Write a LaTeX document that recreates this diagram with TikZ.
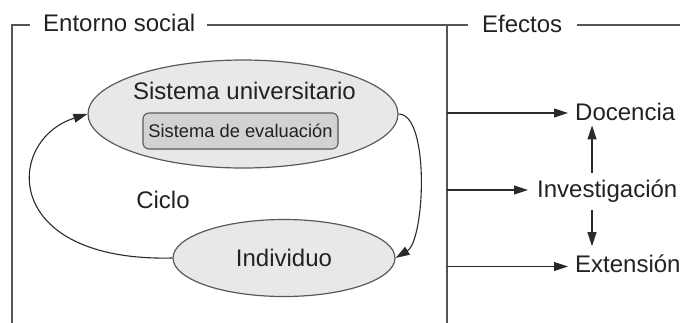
\documentclass[tikz,border=0pt]{standalone}
\usepackage{fontspec}
\setmainfont{Liberation Sans}
\usetikzlibrary{arrows.meta,shapes.geometric,calc}
\definecolor{txt}{HTML}{222222}
\definecolor{framec}{HTML}{555555}
\definecolor{linec}{HTML}{2A2A2A}
\definecolor{ellfill}{HTML}{E8E8E8}
\definecolor{boxfill}{HTML}{D2D2D2}
\definecolor{edgec}{HTML}{5A5A5A}
\tikzset{
  lbl/.style={font=\fontsize{24}{28}\selectfont, text=txt, inner sep=0pt},
  frameline/.style={draw=framec, line width=1.4pt},
  arr/.style={draw=linec, line width=1.1pt, -{Triangle[length=14pt,width=9pt]}},
  ell/.style={ellipse, draw=edgec, line width=1.2pt, fill=ellfill, inner sep=0pt},
  evalbox/.style={rectangle, rounded corners=6pt, draw=edgec, line width=1.1pt, fill=boxfill,
    font=\fontsize{18.3}{22}\selectfont, text=txt, minimum width=195pt, minimum height=36pt, inner sep=0pt}
}
\begin{document}
\begin{tikzpicture}[x=1pt,y=-1pt]
\useasboundingbox (0,0) rectangle (680,322);
% frame
\coordinate (L0) at (12,323);
\coordinate (L1) at (12,25);
\coordinate (L2) at (30,25);
\coordinate (L3) at (207,25);
\coordinate (M1) at (447,25);
\coordinate (M0) at (447,323);
\coordinate (M2) at (468,25);
\coordinate (R1) at (577,25);
\coordinate (R2) at (681,25);
\draw[frameline] (L2) -- (L1) -- (L0);
\draw[frameline] (L3) -- (M1) -- (M0);
\draw[frameline] (M1) -- (M2);
\draw[frameline] (R1) -- (R2);
\node[lbl, anchor=base west] (ent) at (43,31.5) {Entorno social};
\node[lbl, anchor=base west] (efe) at (482,32) {Efectos};
% left part
\node[ell, minimum width=310pt, minimum height=108pt] (su) at (243,114) {};
\node[lbl, anchor=base] (sut) at (244.5,99) {Sistema universitario};
\node[evalbox] (se) at (240.5,131) {Sistema de evaluación};
\node[ell, minimum width=222pt, minimum height=77pt, font=\fontsize{24}{28}\selectfont, text=txt] (ind) at (284,258) {Individuo};
\node[lbl, anchor=base] (cic) at (163,208) {Ciclo};
\draw[arr] (su.east) .. controls (430,114) and (425,240) .. (ind.east);
\draw[arr] (ind.west) .. controls (0,262) and (5,140) .. (su.west);
% right part
\node[lbl, anchor=base west] (doc) at (575,120) {Docencia};
\node[lbl, anchor=base west] (inv) at (537,197) {Investigación};
\node[lbl, anchor=base west] (ext) at (575,272) {Extensión};
\draw[arr] ([yshift=7pt]doc.base west -| M1) -- ([xshift=-7pt,yshift=7pt]doc.base west);
\draw[arr] ([yshift=7pt]inv.base west -| M1) -- ([xshift=-9pt,yshift=7pt]inv.base west);
\draw[arr] ([yshift=5.5pt]ext.base west -| M1) -- ([xshift=-7pt,yshift=5.5pt]ext.base west);
\coordinate (ax) at (592,0);
\draw[arr] ([yshift=6pt]inv.north -| ax) -- ([yshift=-5pt]doc.south -| ax);
\draw[arr] ([yshift=-8pt]inv.south -| ax) -- ([yshift=8pt]ext.north -| ax);
\end{tikzpicture}
\end{document}
